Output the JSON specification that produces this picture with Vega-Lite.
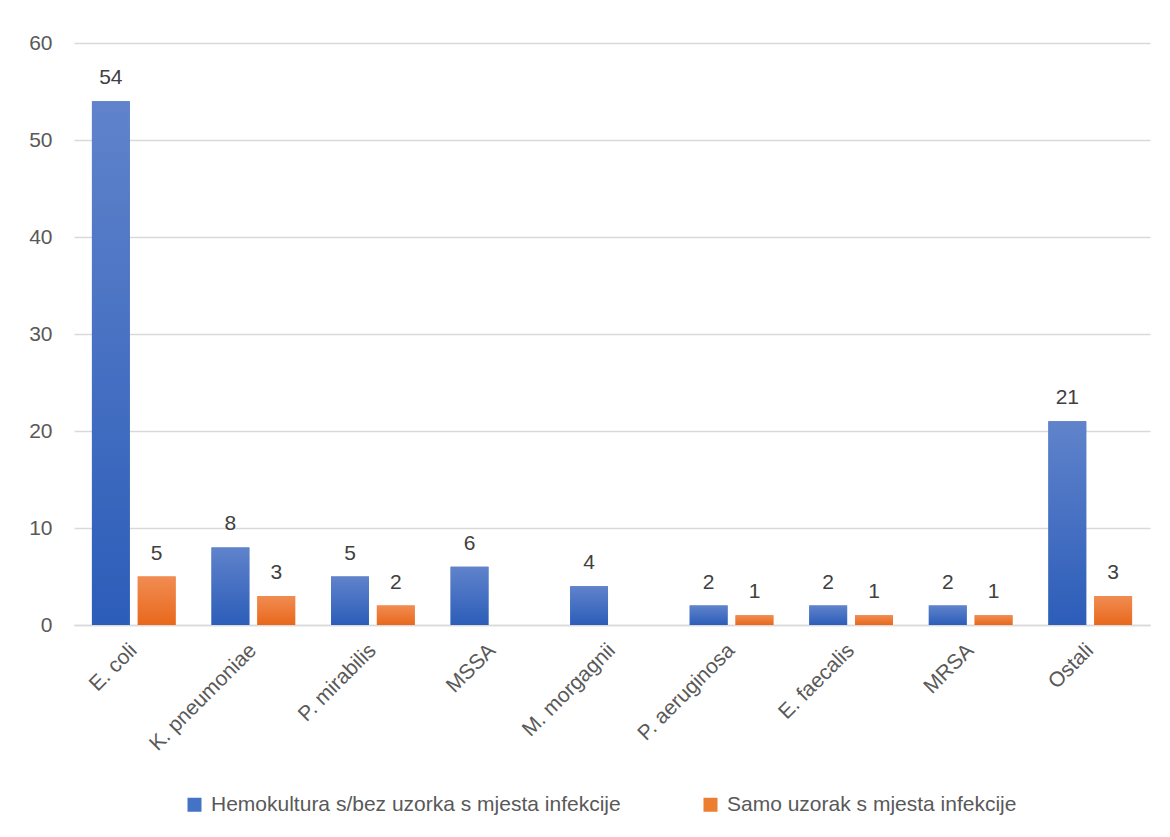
{
  "$schema": "https://vega.github.io/schema/vega-lite/v6.json",
  "width": 1076,
  "height": 582,
  "autosize": {"type": "none"},
  "padding": {"left": 74, "top": 43, "right": 20, "bottom": 212},
  "background": "white",
  "data": {
    "values": [
      {"organism": "E. coli", "series": "Hemokultura s/bez uzorka s mjesta infekcije", "count": 54},
      {"organism": "E. coli", "series": "Samo uzorak s mjesta infekcije", "count": 5},
      {"organism": "K. pneumoniae", "series": "Hemokultura s/bez uzorka s mjesta infekcije", "count": 8},
      {"organism": "K. pneumoniae", "series": "Samo uzorak s mjesta infekcije", "count": 3},
      {"organism": "P. mirabilis", "series": "Hemokultura s/bez uzorka s mjesta infekcije", "count": 5},
      {"organism": "P. mirabilis", "series": "Samo uzorak s mjesta infekcije", "count": 2},
      {"organism": "MSSA", "series": "Hemokultura s/bez uzorka s mjesta infekcije", "count": 6},
      {"organism": "M. morgagnii", "series": "Hemokultura s/bez uzorka s mjesta infekcije", "count": 4},
      {"organism": "P. aeruginosa", "series": "Hemokultura s/bez uzorka s mjesta infekcije", "count": 2},
      {"organism": "P. aeruginosa", "series": "Samo uzorak s mjesta infekcije", "count": 1},
      {"organism": "E. faecalis", "series": "Hemokultura s/bez uzorka s mjesta infekcije", "count": 2},
      {"organism": "E. faecalis", "series": "Samo uzorak s mjesta infekcije", "count": 1},
      {"organism": "MRSA", "series": "Hemokultura s/bez uzorka s mjesta infekcije", "count": 2},
      {"organism": "MRSA", "series": "Samo uzorak s mjesta infekcije", "count": 1},
      {"organism": "Ostali", "series": "Hemokultura s/bez uzorka s mjesta infekcije", "count": 21},
      {"organism": "Ostali", "series": "Samo uzorak s mjesta infekcije", "count": 3}
    ]
  },
  "encoding": {
    "x": {
      "field": "organism",
      "type": "nominal",
      "sort": null,
      "scale": {"paddingInner": 0.3, "paddingOuter": 0.15},
      "axis": {
        "title": null,
        "labelAngle": -45,
        "labelAlign": "right",
        "labelBaseline": "middle",
        "labelPadding": 22,
        "ticks": false,
        "domain": true,
        "domainColor": "#D9D9D9",
        "domainWidth": 1.5,
        "labelColor": "#595959",
        "labelFontSize": 21,
        "labelFont": "Liberation Sans"
      }
    },
    "xOffset": {
      "field": "series",
      "type": "nominal",
      "scale": {"paddingInner": 0.174, "paddingOuter": 0}
    },
    "y": {
      "field": "count",
      "type": "quantitative",
      "scale": {"domain": [0, 60]},
      "axis": {
        "title": null,
        "values": [0, 10, 20, 30, 40, 50, 60],
        "domain": false,
        "ticks": false,
        "grid": true,
        "gridColor": "#D9D9D9",
        "gridWidth": 1.5,
        "labelPadding": 22,
        "labelColor": "#595959",
        "labelFontSize": 21,
        "labelFont": "Liberation Sans"
      }
    }
  },
  "layer": [
    {
      "mark": {"type": "bar"},
      "encoding": {
        "color": {
          "field": "series",
          "type": "nominal",
          "scale": {
            "domain": ["Hemokultura s/bez uzorka s mjesta infekcije", "Samo uzorak s mjesta infekcije"],
            "range": ["#4472C4", "#ED7D31"]
          },
          "legend": {
            "title": null,
            "orient": "none",
            "direction": "horizontal",
            "legendX": 110,
            "legendY": 751,
            "symbolType": "square",
            "symbolSize": 196,
            "symbolStrokeWidth": 0,
            "columnPadding": 79,
            "labelOffset": 6,
            "labelColor": "#595959",
            "labelFontSize": 21,
            "labelFont": "Liberation Sans",
            "labelLimit": 600
          }
        }
      }
    },
    {
      "mark": {"type": "bar"},
      "encoding": {
        "fill": {
          "condition": {
            "test": "datum.series === 'Hemokultura s/bez uzorka s mjesta infekcije'",
            "value": {"gradient": "linear", "x1": 0, "y1": 0, "x2": 0, "y2": 1, "stops": [{"offset": 0, "color": "#6083CB"}, {"offset": 1, "color": "#2C5DB9"}]}
          },
          "value": {"gradient": "linear", "x1": 0, "y1": 0, "x2": 0, "y2": 1, "stops": [{"offset": 0, "color": "#F18C52"}, {"offset": 1, "color": "#E8681C"}]}
        }
      }
    },
    {
      "mark": {"type": "text", "baseline": "alphabetic", "dy": -17, "fontSize": 21, "color": "#404040", "font": "Liberation Sans"},
      "encoding": {
        "text": {"field": "count", "type": "quantitative"}
      }
    }
  ],
  "config": {
    "view": {"stroke": null}
  }
}
